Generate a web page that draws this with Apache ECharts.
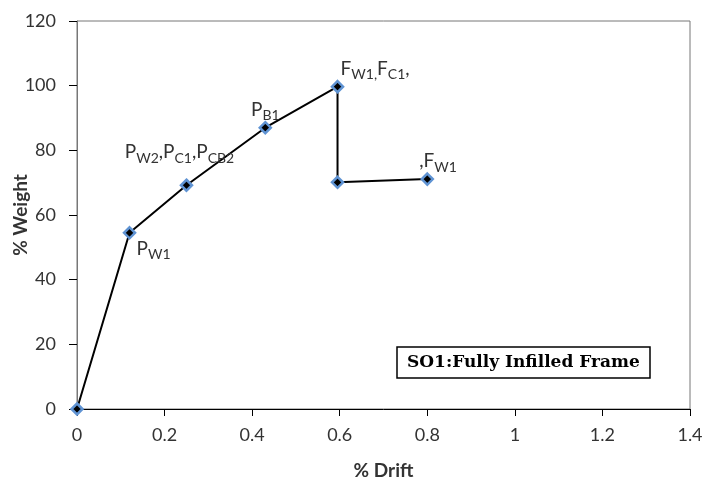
<!DOCTYPE html>
<html>
<head>
<meta charset="utf-8">
<script src="https://cdn.jsdelivr.net/npm/echarts@6/dist/echarts.min.js"></script>
<style>
  html, body { margin: 0; padding: 0; background: #fff; }
  #chart { width: 705px; height: 483px; }
</style>
</head>
<body>
<div id="chart"></div>
<script>
// % drift vs % weight
var drift  = [0, 0.12, 0.25, 0.43, 0.595, 0.595, 0.8];
var weight = [0, 54.5, 69.2, 87, 99.7, 70.1, 71.1];
// point labels, subscripts marked with {s|..}
var pointLabels = [
  '',
  '{m|P}{s|W1}',
  '{m|P}{s|W2}{m|,P}{s|C1}{m|,P}{s|CB2}',
  '{m|P}{s|B1}',
  '{m|F}{s|W1,}{m|F}{s|C1}{m|,}',
  '',
  '{m|,F}{s|W1}'
];

var font = 'Lato';
// where each label sits relative to its point
var labelPlace = [
  null,
  {align: 'left', offset: [7, 16]},
  {align: 'center', offset: [-7, -33]},
  {align: 'center', offset: [0, -18]},
  {align: 'left', offset: [3, -18]},
  null,
  {align: 'left', offset: [-8, -18]}
];

var richStyle = {
  m: {fontFamily: font, fontSize: 19, color: '#333'},
  s: {fontFamily: font, fontSize: 14, color: '#333', padding: [12, 0, 0, 0]}
};

var data = drift.map(function (x, i) {
  var item = {value: [x, weight[i]]};
  var p = labelPlace[i];
  if (p) {
    item.label = {
      show: true,
      formatter: pointLabels[i],
      position: 'inside',
      align: p.align,
      verticalAlign: 'middle',
      offset: p.offset,
      rich: richStyle
    };
  }
  return item;
});

var myChart = echarts.init(document.getElementById('chart'));
myChart.setOption({
  animation: false,
  title: {
    text: 'SO1:Fully Infilled Frame',
    left: 397,
    top: 347,
    padding: [7, 10, 7, 10],
    borderColor: '#000',
    borderWidth: 1.5,
    textStyle: {
      fontFamily: 'DejaVu Serif',
      fontWeight: 'bold',
      fontSize: 17,
      color: '#000'
    }
  },
  grid: {
    left: 77, right: 15, top: 21, bottom: 74,
    outerBoundsMode: 'none',
    show: true,
    borderColor: '#777',
    borderWidth: 1
  },
  xAxis: {
    type: 'value',
    min: 0, max: 1.4, interval: 0.2,
    name: '% Drift',
    nameLocation: 'middle',
    nameGap: 52,
    nameMoveOverlap: false,
    nameTextStyle: {fontFamily: font, fontSize: 19, fontWeight: 'bold', color: '#333'},
    axisLine: {show: true, lineStyle: {color: '#000', width: 1}},
    axisTick: {show: true, length: 7, lineStyle: {color: '#000'}},
    axisLabel: {
      margin: 17,
      fontFamily: font, fontSize: 18, color: '#333',
      formatter: function (v) { return String(+v.toFixed(1)); }
    },
    splitLine: {show: false}
  },
  yAxis: {
    type: 'value',
    min: 0, max: 120, interval: 20,
    name: '% Weight',
    nameLocation: 'middle',
    nameGap: 47,
    nameRotate: 90,
    nameMoveOverlap: false,
    nameTextStyle: {fontFamily: font, fontSize: 19, fontWeight: 'bold', color: '#333'},
    axisLine: {show: true, lineStyle: {color: '#777', width: 1}},
    axisTick: {show: true, length: 8, lineStyle: {color: '#000'}},
    axisLabel: {margin: 21, fontFamily: font, fontSize: 18, color: '#333'},
    splitLine: {show: false}
  },
  series: [{
    type: 'line',
    data: data,
    symbol: 'diamond',
    symbolSize: 11,
    lineStyle: {color: '#000', width: 2},
    itemStyle: {color: '#000', borderColor: '#5f93d3', borderWidth: 2.5},
    z: 3
  }]
});
window.addEventListener('resize', myChart.resize, false);
</script>
</body>
</html>
